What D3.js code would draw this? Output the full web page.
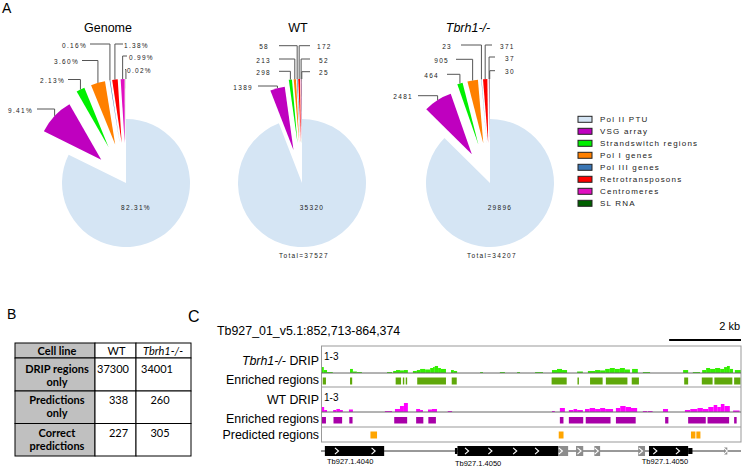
<!DOCTYPE html>
<html><head><meta charset="utf-8">
<script src="https://cdn.jsdelivr.net/npm/d3@7"></script>
<style>body{margin:0;background:#fff}svg{display:block}</style>
</head><body><svg id="c" width="742" height="467"></svg>
<script>
// ---------- DATA ----------
const categories = ["Pol II PTU","VSG array","Strandswitch regions","Pol I genes","Pol III genes","Retrotransposons","Centromeres","SL RNA"];
const catColors = ["#d5e5f4","#bf00bf","#00f000","#ff8000","#3a76b4","#ff0000","#e010c0","#006000"];
const pieTitles = ["Genome","WT","Tbrh1-/-"];
const genomePct = [82.31, 9.41, 2.13, 3.60, 0.16, 1.38, 0.99, 0.02];
const wtCounts = [35320, 1389, 298, 213, 58, 172, 52, 25];
const tbrh1Counts = [29896, 2481, 464, 905, 23, 371, 37, 30];
const pieTotals = [null, 37527, 34207];

const tableHeader = ["Cell line","WT","Tbrh1-/-"];
const tableRowLabels = [["DRIP regions","only"],["Predictions","only"],["Correct","predictions"]];
const tableWT = [37300, 338, 227];
const tableTbrh1 = [34001, 260, 305];

const regionLabel = "Tb927_01_v5.1:852,713-864,374";
const regionLengthKb = 11.661;
// signal segments: [startKb, endKb, value] (scale 1-3)
const tbrh1Signal = [[0,0.05,1.44],[0.05,0.14,1.22],[0.14,0.3,1.07],[0.78,0.86,1.30],[0.86,0.97,1.11],[0.97,1.11,1.07],[1.81,1.95,1.07],[1.98,2.06,1.15],[2.06,2.17,1.22],[2.17,2.28,1.19],[2.28,2.39,1.22],[2.53,2.64,1.15],[2.64,2.73,1.22],[2.73,2.87,1.30],[2.87,3.01,1.26],[3.01,3.09,1.37],[3.09,3.14,1.44],[3.14,3.23,1.52],[3.23,3.31,1.37],[3.31,3.45,1.30],[3.59,3.67,1.22],[3.67,3.76,1.15],[4.40,4.48,1.07],[4.95,5.09,1.07],[5.43,5.51,1.07],[5.93,6.15,1.07],[6.40,6.54,1.22],[6.54,6.68,1.30],[6.68,6.82,1.22],[7.10,7.26,1.11],[7.40,7.60,1.15],[7.60,7.74,1.22],[7.74,7.88,1.19],[7.88,8.01,1.30],[8.01,8.15,1.37],[8.15,8.29,1.30],[8.29,8.43,1.37],[8.43,8.57,1.26],[8.63,8.79,1.30],[8.93,9.13,1.07],[10.05,10.19,1.22],[10.32,10.52,1.07],[10.58,10.69,1.22],[10.69,10.80,1.37],[10.80,10.94,1.30],[10.94,11.08,1.37],[11.08,11.19,1.30],[11.19,11.27,1.44],[11.27,11.35,1.52],[11.35,11.44,1.30],[11.49,11.66,1.22]];
const wtSignal = [[0,0.06,1.40],[0.06,0.14,1.16],[0.31,0.40,1.16],[0.40,0.50,1.24],[0.50,0.58,1.16],[0.75,0.86,1.20],[1.75,1.95,1.08],[2.03,2.17,1.24],[2.17,2.28,1.48],[2.28,2.39,1.72],[2.62,2.73,1.24],[2.73,2.81,1.16],[2.95,3.06,1.20],[3.06,3.20,1.24],[3.50,3.62,1.08],[6.40,6.48,1.08],[6.62,6.76,1.32],[6.87,7.00,1.16],[7.00,7.10,1.24],[7.10,7.26,1.16],[7.32,7.45,1.24],[7.45,7.60,1.32],[7.60,7.74,1.24],[7.74,7.88,1.32],[7.88,8.10,1.24],[8.18,8.30,1.32],[8.30,8.45,1.48],[8.45,8.60,1.40],[8.60,8.77,1.32],[8.93,9.05,1.08],[9.07,9.20,1.08],[9.49,9.63,1.24],[10.10,10.25,1.16],[10.25,10.45,1.24],[10.45,10.60,1.32],[10.60,10.75,1.24],[10.75,10.90,1.40],[10.90,11.00,1.56],[11.00,11.10,1.40],[11.10,11.20,1.64],[11.20,11.35,1.48],[11.44,11.62,1.12]];
const tbrh1Enriched = [[0.02,0.11],[0.78,0.84],[2.05,2.20],[2.25,2.29],[2.33,2.37],[2.65,3.45],[3.61,3.75],[6.39,6.81],[7.11,7.15],[7.46,7.81],[7.90,8.50],[8.62,8.82],[10.08,10.19],[10.57,10.87],[10.92,11.42],[11.47,11.65]];
const wtEnriched = [[0,0.11],[0.32,0.56],[0.76,0.85],[2.01,2.37],[2.62,2.82],[2.96,3.17],[6.62,6.72],[6.87,7.27],[7.34,8.03],[8.18,8.73],[9.55,9.64],[10.19,10.68],[10.73,11.33],[11.47,11.54]];
const predicted = [[1.34,1.54],[6.58,6.73],[10.26,10.40],[10.41,10.54]];
const geneParts = [[0.08,1.73,"exon"],[3.70,3.77,"utr"],[3.77,6.58,"exon"],[6.58,6.85,"grey"],[7.07,7.27,"grey"],[7.58,7.74,"grey"],[8.80,8.99,"grey"],[9.10,10.19,"exon"],[10.19,10.31,"utr"],[11.19,11.28,"greysmall"]];
const chevrons = [0.41,1.43,4.03,4.68,5.37,5.98,6.64,7.16,7.64,8.87,9.27,9.90,11.23];
const geneNames = ["Tb927.1.4040","Tb927.1.4050","Tb927.1.4050"];
const geneNamePos = [0.14,3.70,8.90];

// ---------- LAYOUT ----------
const svg = d3.select("#c");
const FONT = "'Liberation Sans', Arial, sans-serif";
const pieCx = [126, 302, 490], pieCy = 183, R = 64;
const titleX = [108, 298, 468];
const explode = [0, 34, 40, 40, 40, 40, 40, 40];
// [lineY, lineEndX, textX] per small slice
const labelLayout = [
  [[109,37,33],[79.5,68,65],[60.5,82,79],[44,90,87],[44,123,124],[56,127,129],[69.5,125,127]],
  [[86,258,253],[71.3,279,271],[59,279,271],[45.7,279,269],[45.7,310,317],[59,310,319],[71.7,310,319]],
  [[95.7,418,413],[74.3,447,439],[59.3,456,449],[45,461,452],[45,492,500],[57,495,505],[70.7,495,505]]
];

// panel letters
svg.append("text").attr("x",2).attr("y",13).text("A").attr("font-family",FONT).attr("font-size",14);
svg.append("text").attr("x",7).attr("y",319).text("B").attr("font-family",FONT).attr("font-size",14);
svg.append("text").attr("x",188).attr("y",322).text("C").attr("font-family",FONT).attr("font-size",16);

// ---------- PANEL A ----------
const pieGen = d3.pie().sort(null).value(d=>d).startAngle(0).endAngle(2*Math.PI);
const arcGen = d3.arc().innerRadius(0).outerRadius(R);
const pieData = [genomePct, wtCounts, tbrh1Counts];
const smallFont = {"font-family":FONT,"font-size":6.5,"letter-spacing":1.3,"fill":"#222"};
function applyAttrs(sel, o){ for (const k in o) sel.attr(k,o[k]); return sel; }

pieData.forEach((vals, p) => {
  const cx = pieCx[p];
  const g = svg.append("g");
  const arcs = pieGen(vals);
  const fmt = p === 0 ? (v => v.toFixed(2) + "%") : (v => String(v));
  arcs.forEach((a, i) => {
    const mid = (a.startAngle + a.endAngle) / 2;
    const dx = Math.sin(mid) * explode[i], dy = -Math.cos(mid) * explode[i];
    g.append("path").attr("d", arcGen(a)).attr("fill", catColors[i])
      .attr("transform", `translate(${cx+dx},${pieCy+dy})`);
  });
  arcs.forEach((a, i) => {
    if (i === 0) return;
    const mid = (a.startAngle + a.endAngle) / 2;
    const vx = cx + Math.sin(mid) * (explode[i] + R);
    const vy = pieCy - Math.cos(mid) * (explode[i] + R);
    const [ly, lx, tx] = labelLayout[p][i-1];
    g.append("path").attr("d", `M${vx},${vy}V${ly}H${lx}`).attr("fill","none")
      .attr("stroke","#555").attr("stroke-width",1);
    const t = g.append("text").attr("x", tx).attr("y", ly + 3.5).text(fmt(vals[i]))
      .attr("text-anchor", tx < vx ? "end" : "start");
    applyAttrs(t, smallFont);
  });
  applyAttrs(g.append("text").attr("x", cx + 10).attr("y", 209.5).attr("text-anchor","middle").text(fmt(vals[0])), smallFont);
  svg.append("text").attr("x", titleX[p]).attr("y", 31.5).attr("text-anchor","middle")
    .attr("font-family",FONT).attr("font-size",12.5).attr("font-style", p===2?"italic":"normal")
    .text(pieTitles[p]);
  if (pieTotals[p] !== null) {
    applyAttrs(svg.append("text").attr("x", cx + 2).attr("y", 258).attr("text-anchor","middle")
      .text("Total=" + pieTotals[p]), smallFont);
  }
});

// legend
const lg = svg.append("g");
categories.forEach((c, i) => {
  const y = 119.3 + 12 * i;
  lg.append("rect").attr("x",578).attr("y",y-3).attr("width",14).attr("height",6)
    .attr("fill",catColors[i]).attr("stroke","#222").attr("stroke-width",1);
  lg.append("text").attr("x",600).attr("y",y+3).text(c)
    .attr("font-family",FONT).attr("font-size",8).attr("letter-spacing",1.2).attr("fill","#222");
});

// ---------- PANEL B ----------
const colX = [15, 95, 136, 191];
const rowY = [343, 358, 391, 423.5, 456];
const tb = svg.append("g").attr("font-family","Lato, 'Open Sans', sans-serif").attr("font-size",11);
for (let r = 0; r < 4; r++) {
  for (let c = 0; c < 3; c++) {
    tb.append("rect").attr("x",colX[c]).attr("y",rowY[r]).attr("width",colX[c+1]-colX[c])
      .attr("height",rowY[r+1]-rowY[r]).attr("fill", c===0 ? "#c0c0c0" : "#fff")
      .attr("stroke","#000").attr("stroke-width",1);
  }
}
const colCenter = [57, 116.5, 163];
tableHeader.forEach((h, c) => {
  tb.append("text").attr("x", colCenter[c]).attr("y", 355).attr("text-anchor","middle")
    .attr("font-weight", c===0 ? "bold" : "normal").attr("font-style", c===2 ? "italic" : "normal").text(h);
});
const valueX = [[113,157],[118.5,160],[118.5,160]];
tableRowLabels.forEach((lines, r) => {
  const base = rowY[r+1] + (r===0 ? 14.5 : 13);
  lines.forEach((ln, k) => {
    tb.append("text").attr("x", colCenter[0]).attr("y", base + 13*k).attr("text-anchor","middle")
      .attr("font-weight","bold").text(ln);
  });
  tb.append("text").attr("x", valueX[r][0]).attr("y", base).attr("text-anchor","middle").text(tableWT[r]);
  tb.append("text").attr("x", valueX[r][1]).attr("y", base).attr("text-anchor","middle").text(tableTbrh1[r]);
});

// ---------- PANEL C ----------
const x = d3.scaleLinear().domain([0, regionLengthKb]).range([322, 741]);
const gc = svg.append("g").attr("font-family",FONT);
gc.append("text").attr("x",217).attr("y",335).attr("font-size",12.4).text(regionLabel);
gc.append("text").attr("x",740).attr("y",330).attr("font-size",11).attr("text-anchor","end").text("2 kb");
gc.append("line").attr("x1",x(regionLengthKb-2)).attr("x2",x(regionLengthKb)).attr("y1",340).attr("y2",340)
  .attr("stroke","#000").attr("stroke-width",2);

const boxTop = 346, b1 = 373, b2 = 387, b3 = 412, b4 = 427, boxBot = 442;
const yG = d3.scaleLinear().domain([1,3]).range([b1, boxTop]);
const yW = d3.scaleLinear().domain([1,3]).range([b3, b2]);
gc.append("g").selectAll("rect").data(tbrh1Signal).join("rect")
  .attr("x",d=>x(d[0])).attr("width",d=>x(d[1])-x(d[0])).attr("y",d=>yG(d[2])).attr("height",d=>b1-yG(d[2]))
  .attr("fill","#33ee00");
gc.append("g").selectAll("rect").data(wtSignal).join("rect")
  .attr("x",d=>x(d[0])).attr("width",d=>x(d[1])-x(d[0])).attr("y",d=>yW(d[2])).attr("height",d=>b3-yW(d[2]))
  .attr("fill","#ff00ff");
gc.append("g").selectAll("rect").data(tbrh1Enriched).join("rect")
  .attr("x",d=>x(d[0])).attr("width",d=>x(d[1])-x(d[0])).attr("y",377.5).attr("height",7).attr("fill","#5fa80a");
gc.append("g").selectAll("rect").data(wtEnriched).join("rect")
  .attr("x",d=>x(d[0])).attr("width",d=>x(d[1])-x(d[0])).attr("y",417).attr("height",6.5).attr("fill","#a800a8");
gc.append("g").selectAll("rect").data(predicted).join("rect")
  .attr("x",d=>x(d[0])+0.3).attr("width",d=>x(d[1])-x(d[0])-0.6).attr("y",431.5).attr("height",7).attr("fill","#ffa500");
gc.append("rect").attr("x",321.5).attr("y",boxTop).attr("width",741-321.5).attr("height",boxBot-boxTop)
  .attr("fill","none").attr("stroke","#999").attr("stroke-width",1);
[b1,b2,b3,b4].forEach((yy,i)=>{
  gc.append("line").attr("x1",321.5).attr("x2",741).attr("y1",yy).attr("y2",yy)
    .attr("stroke", (i===0||i===2) ? "#666" : "#999").attr("stroke-width",1);
});
const trackLabels = [["Tbrh1-/-"," DRIP",365],["","Enriched regions",384],["","WT DRIP",404],["","Enriched regions",423],["","Predicted regions",438.5]];
trackLabels.forEach(([it, rest, yy]) => {
  const t = gc.append("text").attr("x",319).attr("y",yy).attr("text-anchor","end").attr("font-size",12.4);
  if (it) t.append("tspan").attr("font-style","italic").text(it);
  t.append("tspan").text(rest);
});
gc.append("text").attr("x",324).attr("y",359.5).attr("font-size",10).text("1-3");
gc.append("text").attr("x",324).attr("y",400.5).attr("font-size",10).text("1-3");

const gy = 451;
gc.append("line").attr("x1",321).attr("x2",741).attr("y1",gy).attr("y2",gy).attr("stroke","#333").attr("stroke-width",1);
geneParts.forEach(([s,e,k]) => {
  const h = k==="exon"||k==="grey" ? 10 : (k==="utr" ? 6 : 7);
  gc.append("rect").attr("x",x(s)).attr("width",x(e)-x(s)).attr("y",gy-h/2).attr("height",h)
    .attr("fill", k.startsWith("grey") ? "#8c8c8c" : "#000");
});
chevrons.forEach(c => {
  const cxp = x(c);
  gc.append("path").attr("d",`M${cxp-1.8},${gy-3.2}L${cxp+1.8},${gy}L${cxp-1.8},${gy+3.2}`)
    .attr("fill","none").attr("stroke","#fff").attr("stroke-width",1.1);
});
const geneLabelY = [464, 466, 464];
geneNames.forEach((n,i)=>{
  gc.append("text").attr("x",x(geneNamePos[i])).attr("y",geneLabelY[i]).attr("font-size",7.5).text(n);
});
</script>
</body></html>
